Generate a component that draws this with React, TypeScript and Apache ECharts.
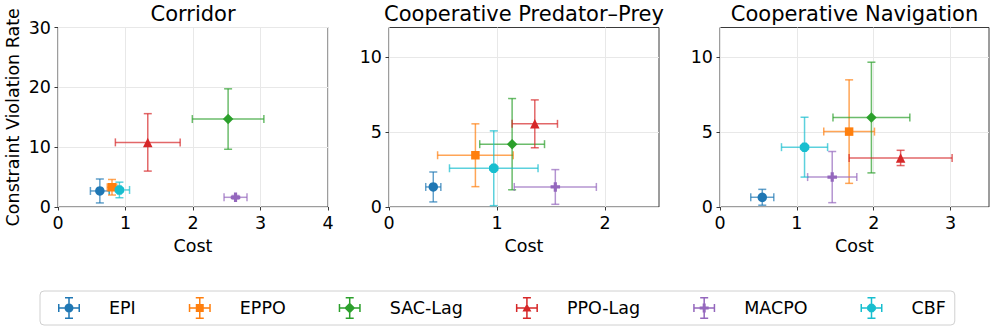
import React, { useEffect, useRef } from "react";
import * as echarts from "echarts";

const methods = ["EPI", "EPPO", "SAC-Lag", "PPO-Lag", "MACPO", "CBF"];
const colors = ["#1f77b4", "#ff7f0e", "#2ca02c", "#d62728", "#9467bd", "#17becf"];

const panelTitles = ["Corridor", "Cooperative Predator\u2013Prey", "Cooperative Navigation"];
const xMax = [4, 2.5, 3.5];
const yMax = [30, 12, 12];
const yInterval = [10, 5, 5];
const xTickValues = [
  [0, 1, 2, 3, 4],
  [0, 1, 2],
  [0, 1, 2, 3],
];
const yTickValues = [
  [0, 10, 20, 30],
  [0, 5, 10],
  [0, 5, 10],
];

// Corridor
const corridorCost = [0.62, 0.8, 2.52, 1.33, 2.63, 0.91];
const corridorCostErr = [0.14, 0.07, 0.53, 0.48, 0.17, 0.15];
const corridorViol = [2.68, 3.3, 14.7, 10.8, 1.62, 2.85];
const corridorViolErr = [2.0, 1.3, 5.05, 4.8, 0.3, 1.3];

// Cooperative Predator-Prey
const predCost = [0.41, 0.8, 1.14, 1.35, 1.54, 0.97];
const predCostErr = [0.07, 0.35, 0.3, 0.21, 0.38, 0.41];
const predViol = [1.34, 3.46, 4.2, 5.56, 1.34, 2.59];
const predViolErr = [1.0, 2.1, 3.05, 1.6, 1.16, 2.5];

// Cooperative Navigation
const navCost = [0.55, 1.68, 1.97, 2.35, 1.46, 1.1];
const navCostErr = [0.15, 0.33, 0.5, 0.67, 0.32, 0.3];
const navViol = [0.65, 5.04, 5.98, 3.28, 2.0, 4.0];
const navViolErr = [0.53, 3.46, 3.7, 0.51, 1.71, 2.0];

const panelData = [
  [corridorCost, corridorViol, corridorCostErr, corridorViolErr],
  [predCost, predViol, predCostErr, predViolErr],
  [navCost, navViol, navCostErr, navViolErr],
];

const FONT = "DejaVu Sans";

const markerSymbols = [
  "circle",
  "rect",
  "path://M0,-1L1,0L0,1L-1,0Z",
  "triangle",
  "path://M-1,-3H1V-1H3V1H1V3H-1V1H-3V-1H-1Z",
  "path://M0.383,-0.924L0.924,-0.383L0.924,0.383L0.383,0.924L-0.383,0.924L-0.924,0.383L-0.924,-0.383L-0.383,-0.924Z",
];
const markerSizes = [9.5, 8.5, 10.5, 9.5, 9.5, 9.5];

const barPath =
  "M0,10.25H22V11.75H0Z M10.25,0H11.75V22H10.25Z M0,7H1.5V15H0Z M20.5,7H22V15H20.5Z M7,0H15V1.5H7Z M7,20.5H15V22H7Z ";
const legendMarkers = [
  "M15.5,11A4.5,4.5,0,1,1,6.5,11A4.5,4.5,0,1,1,15.5,11Z",
  "M7,7H15V15H7Z",
  "M11,5.5L16.5,11L11,16.5L5.5,11Z",
  "M11,6.5L15.5,14.5H6.5Z",
  "M9.5,6.5H12.5V9.5H15.5V12.5H12.5V15.5H9.5V12.5H6.5V9.5H9.5Z",
  "M12.8,6.66L15.34,9.2L15.34,12.8L12.8,15.34L9.2,15.34L6.66,12.8L6.66,9.2L9.2,6.66Z",
];

const gridLefts = [58, 389, 720];
const gridWidths = [270, 270, 269];
const gridTop = 27.5;
const gridHeight = 179.5;

function rgba(hex: string, a: number) {
  const n = parseInt(hex.slice(1), 16);
  return `rgba(${(n >> 16) & 255},${(n >> 8) & 255},${n & 255},${a})`;
}

function buildOption() {
  const series: any[] = [];
  panelData.forEach((pd, p) => {
    methods.forEach((m, k) => {
      const color = colors[k];
      const barColor = rgba(color, 0.7);
      series.push({
        type: "custom",
        name: m,
        xAxisIndex: p,
        yAxisIndex: p,
        itemStyle: { color },
        encode: { x: 0, y: 1 },
        data: [[pd[0][k], pd[1][k], pd[2][k], pd[3][k]]],
        renderItem: (params: any, api: any) => {
          const x = api.value(0);
          const y = api.value(1);
          const xe = api.value(2);
          const ye = api.value(3);
          const l = api.coord([x - xe, y]);
          const r = api.coord([x + xe, y]);
          const t = api.coord([x, y + ye]);
          const b = api.coord([x, y - ye]);
          const cap = 4;
          const st = { stroke: barColor, lineWidth: 1.5 };
          const ln = (x1: number, y1: number, x2: number, y2: number) => ({
            type: "line",
            shape: { x1, y1, x2, y2 },
            style: st,
          });
          return {
            type: "group",
            children: [
              ln(l[0], l[1], r[0], r[1]),
              ln(t[0], t[1], b[0], b[1]),
              ln(l[0], l[1] - cap, l[0], l[1] + cap),
              ln(r[0], r[1] - cap, r[0], r[1] + cap),
              ln(t[0] - cap, t[1], t[0] + cap, t[1]),
              ln(b[0] - cap, b[1], b[0] + cap, b[1]),
            ],
          };
        },
      });
      series.push({
        type: "scatter",
        name: m,
        xAxisIndex: p,
        yAxisIndex: p,
        symbol: markerSymbols[k],
        symbolSize: markerSizes[k],
        itemStyle: { color, opacity: 1 },
        data: [[pd[0][k], pd[1][k]]],
      });
    });
  });

  return {
    animation: false,
    backgroundColor: "#fff",
    textStyle: { fontFamily: FONT },
    title: panelTitles.map((t, i) => ({
      text: t,
      left: gridLefts[i] + gridWidths[i] / 2,
      top: 3.5,
      textAlign: "center",
      padding: 0,
      textStyle: { fontFamily: FONT, fontSize: 21, fontWeight: "normal", color: "#000" },
    })),
    grid: gridLefts.map((l, i) => ({
      left: l,
      top: gridTop,
      width: gridWidths[i],
      height: gridHeight,
      show: true,
      borderColor: "#3a3a3a",
      borderWidth: 1,
      backgroundColor: "transparent",
    })),
    xAxis: gridLefts.map((_, i) => ({
      gridIndex: i,
      type: "value",
      min: 0,
      max: xMax[i],
      interval: 1,
      name: "Cost",
      nameLocation: "middle",
      nameGap: 28,
      nameTextStyle: { fontFamily: FONT, fontSize: 17.5, color: "#000" },
      axisLine: { show: false },
      axisTick: {
        show: true,
        length: 3.5,
        customValues: xTickValues[i],
        lineStyle: { color: "#3a3a3a", width: 1 },
      },
      axisLabel: {
        fontFamily: FONT,
        fontSize: 17.5,
        color: "#000",
        margin: 7,
        customValues: xTickValues[i],
      },
      splitLine: { show: true, lineStyle: { color: "#e8e8e8", width: 1 } },
    })),
    yAxis: gridLefts.map((_, i) => ({
      gridIndex: i,
      type: "value",
      min: 0,
      max: yMax[i],
      interval: yInterval[i],
      name: i === 0 ? "Constraint Violation Rate" : "",
      nameLocation: "middle",
      nameRotate: 90,
      nameGap: 36,
      nameTextStyle: { fontFamily: FONT, fontSize: 17.5, color: "#000" },
      axisLine: { show: false },
      axisTick: {
        show: true,
        length: 3.5,
        customValues: yTickValues[i],
        lineStyle: { color: "#3a3a3a", width: 1 },
      },
      axisLabel: {
        fontFamily: FONT,
        fontSize: 17.5,
        color: "#000",
        margin: 7,
        customValues: yTickValues[i],
      },
      splitLine: { show: true, lineStyle: { color: "#e8e8e8", width: 1 } },
    })),
    legend: {
      left: 40,
      top: 291,
      orient: "horizontal",
      padding: [6, 9, 6, 18],
      borderColor: "#d0d0d0",
      borderWidth: 1,
      borderRadius: 4,
      itemWidth: 22,
      itemHeight: 22,
      itemGap: 53,
      selectedMode: false,
      textStyle: { fontFamily: FONT, fontSize: 17.5, color: "#000", padding: [0, 0, 0, 24] },
      data: methods.map((m, k) => ({
        name: m,
        icon: "path://" + barPath + legendMarkers[k],
        itemStyle: { color: colors[k] },
      })),
    },
    series,
  };
}

export default function App() {
  const ref = useRef<HTMLDivElement>(null);
  useEffect(() => {
    if (!ref.current) return;
    const chart = echarts.init(ref.current, undefined, { renderer: "svg" });
    chart.setOption(buildOption() as any);
    return () => chart.dispose();
  }, []);
  return (
    <div
      ref={ref}
      style={{ position: "fixed", left: 0, top: 0, width: 996, height: 333, background: "#fff" }}
    />
  );
}
